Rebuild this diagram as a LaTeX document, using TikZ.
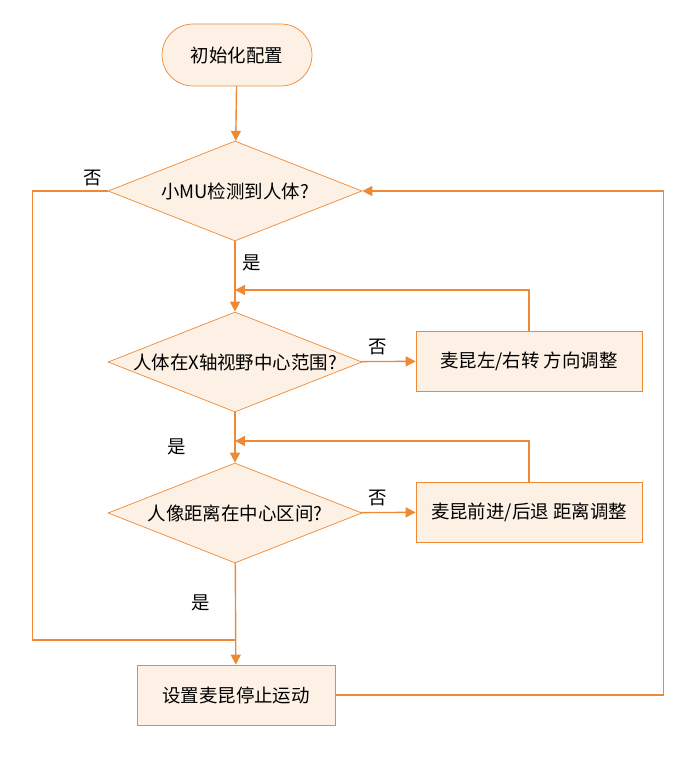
\documentclass[tikz,border=0pt]{standalone}
\usepackage{fontspec}
\setmainfont{Noto Sans CJK SC}
\usetikzlibrary{shapes.geometric, arrows.meta, positioning}
\definecolor{lineorange}{HTML}{EE8A35}
\definecolor{fillorange}{HTML}{FDF0E4}

\begin{document}
\begin{tikzpicture}[x=0.02cm, y=-0.02cm,
    startstop/.style={rectangle, rounded corners=0.62cm, draw=lineorange, fill=fillorange, minimum width=3cm, minimum height=1.24cm, font=\fontsize{10.5}{12}\selectfont},
    decision/.style={diamond, draw=lineorange, fill=fillorange, minimum width=5.08cm, minimum height=2cm, inner sep=0pt, aspect=2.54, font=\fontsize{10.5}{12}\selectfont},
    process/.style={rectangle, draw=lineorange, fill=fillorange, minimum height=1.2cm, font=\fontsize{10.5}{12}\selectfont},
    arrow/.style={-{Triangle[length=2mm, width=2mm]}, draw=lineorange, line width=0.8pt},
    label/.style={font=\fontsize{10.5}{12}\selectfont}
]
\useasboundingbox (0,0) rectangle (697,759);

% Nodes
\node[startstop] (init) at (237,55) {初始化配置};
\node[decision] (detect) at (235,191) {小MU检测到人体?};
\node[decision] (center) at (235,362) {人体在X轴视野中心范围?};
\node[process, minimum width=4.52cm] (turn) at (529,361) {麦昆左/右转 方向调整};
\node[decision] (dist) at (235,513) {人像距离在中心区间?};
\node[process, minimum width=4.52cm] (move) at (529,512) {麦昆前进/后退 距离调整};
\node[process, minimum width=3.96cm] (stop) at (236,695) {设置麦昆停止运动};

% Helper points
\coordinate (j1) at (235,290);
\coordinate (j2) at (235,441);
\coordinate (j3) at (235,640);

% Flows
\draw[arrow] (init) -- (detect);
\draw[arrow] (detect) -- (center);
\draw[arrow] (turn.north) |- (j1);
\draw[arrow] (center) -- node[label, above, pos=0.3] {否} (turn);
\draw[arrow] (center) -- (dist);
\draw[arrow] (move.north) |- (j2);
\draw[arrow] (dist) -- node[label, above, pos=0.3] {否} (move);
\draw[arrow] (dist) -- (stop);
\draw[draw=lineorange, line width=0.8pt] (detect.west) -- ++(-75,0) |- (j3);
\draw[arrow] (stop.east) -- ++(328,0) |- (detect.east);

% Labels
\node[label] (no1) at (93,178) {否};
\node[label] (yes1) at (252,263) {是};
\node[label] (yes2) at (177,447) {是};
\node[label] (yes3) at (201,603) {是};

\end{tikzpicture}
\end{document}
